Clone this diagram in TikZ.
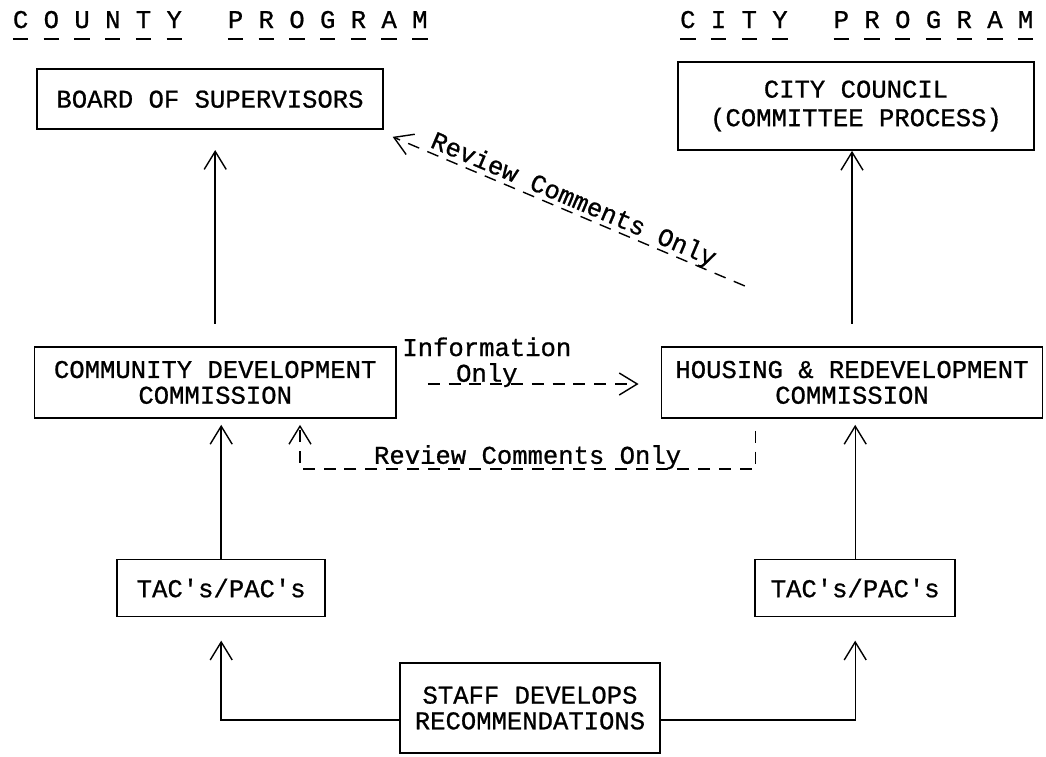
\documentclass[tikz,border=0pt]{standalone}
\usepackage{fontspec}
\setmainfont{Liberation Mono}[Ligatures=TeXOff, FakeBold=0.8]
\usetikzlibrary{arrows.meta}

\newcommand\tu[1]{\rlap{\rule[-8.5pt]{0.6em}{1.3pt}}#1}

\begin{document}
\begin{tikzpicture}[
	font=\fontsize{18.2}{18.3}\selectfont,
	box/.style={draw, line width=1.2pt, align=center, inner sep=0pt},
	link/.style={line width=1pt, -{Straight Barb[length=0.45cm, width=0.55cm]}},
	dashes/.style={link, dash pattern=on 0.3cm off 0.22cm}]

\useasboundingbox (0, 0) rectangle (26.15, -18.9);

% headings
\node[anchor=base west] (county) at (0.2, -0.7)
	{\tu{C}~\tu{O}~\tu{U}~\tu{N}~\tu{T}~\tu{Y}~~~\tu{P}~\tu{R}~\tu{O}~\tu{G}~\tu{R}~\tu{A}~\tu{M}};
\node[anchor=base west] (city) at (16.88, -0.7)
	{\tu{C}~\tu{I}~\tu{T}~\tu{Y}~~~\tu{P}~\tu{R}~\tu{O}~\tu{G}~\tu{R}~\tu{A}~\tu{M}};

% boxes
\node[box, minimum width=8.65cm, minimum height=1.5cm] (board) at (5.25, -2.48) {BOARD OF SUPERVISORS};
\node[box, minimum width=8.9cm, minimum height=2.2cm] (council) at (21.4, -2.65) {CITY COUNCIL\\[2pt](COMMITTEE PROCESS)};
\node[box, minimum width=9.03cm, minimum height=1.78cm] (cdc) at (5.38, -9.56) {COMMUNITY DEVELOPMENT\\COMMISSION};
\node[box, minimum width=9.53cm, minimum height=1.78cm] (hrc) at (21.3, -9.56) {HOUSING \& REDEVELOPMENT\\COMMISSION};
\node[box, minimum width=5.2cm, minimum height=1.43cm] (tacl) at (5.53, -14.7) {TAC's/PAC's};
\node[box, minimum width=5.0cm, minimum height=1.43cm] (tacr) at (21.38, -14.7) {TAC's/PAC's};
\node[box, minimum width=6.5cm, minimum height=2.25cm] (staff) at (13.25, -17.7) {STAFF DEVELOPS\\RECOMMENDATIONS};

% solid links
\draw[link, shorten <=0.55cm, shorten >=0.5cm] (cdc.north) -- (cdc.north |- board.south);
\draw[link, shorten <=0.55cm] (hrc.north) -- (hrc.north |- council.south);
\draw[link, shorten >=0.15cm] (tacl.north) -- (tacl.north |- cdc.south);
\draw[link, shorten >=0.15cm] (tacr.north) -- (tacr.north |- hrc.south);
\draw[link] ([yshift=-0.3cm]staff.west) -| ([yshift=-0.58cm]tacl.south);
\draw[link] ([yshift=-0.3cm]staff.east) -| ([yshift=-0.58cm]tacr.south);

% dashed links
\draw[dashes] ([xshift=0.78cm, yshift=-0.04cm]cdc.east) -- ([xshift=-0.55cm, yshift=-0.04cm]hrc.west)
	node[pos=0.28, above=-6pt, align=center] (info) {Information\\Only};
\draw[dashes] ([xshift=-2.42cm, yshift=-0.3cm]hrc.south) |- ([xshift=2.12cm, yshift=-1.25cm]cdc.south)
	node[pos=0.75, above=-4pt] (rev) {Review Comments Only}
	-- ([xshift=2.12cm, yshift=-0.15cm]cdc.south);
\draw[dashes] ([xshift=-2.68cm, yshift=1.5cm]hrc.north) -- ([xshift=0.22cm, yshift=-0.17cm]board.south east)
	node[midway, sloped, above=-4pt] (revdiag) {Review Comments Only};

\end{tikzpicture}
\end{document}
